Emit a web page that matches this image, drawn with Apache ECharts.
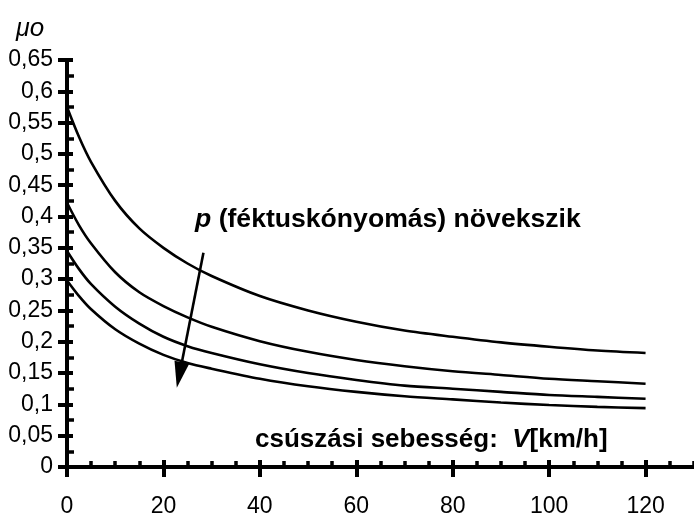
<!DOCTYPE html>
<html><head><meta charset="utf-8">
<script src="https://cdn.jsdelivr.net/npm/echarts@6/dist/echarts.min.js"></script>
<style>html,body{margin:0;padding:0;background:#fff}#c{width:694px;height:519px}</style>
</head><body><div id="c"></div>
<script>
// Data
const speeds = [0, 2.5, 5, 10, 15, 20, 25, 30, 40, 50, 60, 70, 80, 90, 100, 110, 120];
const muCurve1 = [0.575, 0.527, 0.487, 0.425, 0.381, 0.350, 0.325, 0.305, 0.273, 0.250, 0.232, 0.218, 0.208, 0.199, 0.192, 0.186, 0.182];
const muCurve2 = [0.422, 0.386, 0.357, 0.311, 0.279, 0.257, 0.239, 0.224, 0.201, 0.184, 0.171, 0.161, 0.153, 0.147, 0.141, 0.137, 0.133];
const muCurve3 = [0.345, 0.316, 0.292, 0.256, 0.229, 0.208, 0.193, 0.182, 0.164, 0.150, 0.139, 0.130, 0.125, 0.120, 0.115, 0.112, 0.109];
const muCurve4 = [0.298, 0.273, 0.252, 0.220, 0.197, 0.179, 0.166, 0.157, 0.141, 0.129, 0.120, 0.113, 0.108, 0.103, 0.099, 0.096, 0.094];
const xTickLabels = ['0', '20', '40', '60', '80', '100', '120'];
const yTickLabels = ['0', '0,05', '0,1', '0,15', '0,2', '0,25', '0,3', '0,35', '0,4', '0,45', '0,5', '0,55', '0,6', '0,65'];
const arrowStart = [28.3, 0.342];
const arrowEnd = [23.3, 0.147];

const LABEL_FONT = '"Liberation Sans", Arial, sans-serif';
const SANS = '"Liberation Sans", Arial, sans-serif';

function mkSeries(vals) {
  return {
    type: 'line',
    data: speeds.map((v, i) => [v, vals[i]]),
    smooth: 0.3,
    showSymbol: false,
    symbol: 'none',
    lineStyle: { color: '#000', width: 2.6 },
    emphasis: { disabled: true },
    silent: true,
    z: 3
  };
}

const TRI = 'path://M0,0 L10,30 L-10,30 Z';
const series = [mkSeries(muCurve1), mkSeries(muCurve2), mkSeries(muCurve3), mkSeries(muCurve4)];
series[0].markLine = {
  silent: true,
  symbol: ['none', TRI],
  symbolSize: [0, [15, 26]],
  label: { show: false },
  lineStyle: { color: '#000', width: 2.6, type: 'solid' },
  emphasis: { disabled: true },
  data: [[{ coord: arrowStart, symbol: 'none' }, { coord: arrowEnd, symbol: TRI, symbolSize: [15, 26] }]]
};

const xBase = { type: 'value', min: 0, max: 140, interval: 20, splitLine: { show: false }, position: 'bottom' };
const yBase = { type: 'value', min: 0, max: 0.65, interval: 0.05, splitLine: { show: false }, position: 'left' };

const option = {
  animation: false,
  backgroundColor: '#fff',
  grid: { left: 67, top: 60, width: 675, height: 407, containLabel: false, outerBoundsMode: 'none' },
  xAxis: [
    Object.assign({}, xBase, {
      axisLine: { lineStyle: { color: '#000', width: 4 } },
      axisTick: { inside: false, length: 10, lineStyle: { color: '#000', width: 4 } },
      axisLabel: {
        color: '#000', fontSize: 23, fontFamily: LABEL_FONT, margin: 28,
        formatter: (v) => { const i = Math.round(v / 20); return (Math.abs(v - i * 20) < 1e-6 && i < xTickLabels.length) ? xTickLabels[i] : ''; }
      }
    }),
    Object.assign({}, xBase, {
      axisLine: { show: false },
      axisTick: { inside: true, length: 7, lineStyle: { color: '#000', width: 4 } },
      minorTick: { show: true, splitNumber: 4, length: 6, lineStyle: { color: '#000', width: 3.5 } },
      axisLabel: { show: false }
    })
  ],
  yAxis: [
    Object.assign({}, yBase, {
      axisLine: { show: true, lineStyle: { color: '#000', width: 4 } },
      axisTick: { inside: false, length: 9, lineStyle: { color: '#000', width: 4 } },
      axisLabel: {
        color: '#000', fontSize: 23, fontFamily: LABEL_FONT, margin: 14,
        formatter: (v) => { const i = Math.round(v / 0.05); return yTickLabels[i] || ''; }
      }
    }),
    Object.assign({}, yBase, {
      axisLine: { show: false },
      axisTick: { inside: true, length: 6, lineStyle: { color: '#000', width: 4 } },
      minorTick: { show: true, splitNumber: 2, length: 7, lineStyle: { color: '#000', width: 3.5 } },
      axisLabel: { show: false }
    })
  ],
  series: series,
  graphic: [
    {
      type: 'text', left: 16, top: 16,
      style: {
        text: '{m|μ}{s|o}',
        rich: {
          m: { fontSize: 25, fontStyle: 'italic', fontFamily: SANS, fill: '#000' },
          s: { fontSize: 26, fontStyle: 'italic', fontFamily: SANS, fill: '#000' }
        }
      }
    },
    {
      type: 'text', left: 195, top: 206,
      style: {
        text: '{i|p} (féktuskónyomás) növekszik',
        fontSize: 26.6, fontWeight: 'bold', fontFamily: SANS, fill: '#000',
        rich: { i: { fontSize: 26.6, fontWeight: 'bold', fontStyle: 'italic', fontFamily: SANS, fill: '#000' } }
      }
    },
    {
      type: 'text', left: 255, top: 427,
      style: {
        text: 'csúszási sebesség:  {i|V}[km/h]',
        fontSize: 26, fontWeight: 'bold', fontFamily: SANS, fill: '#000',
        rich: { i: { fontSize: 26, fontWeight: 'bold', fontStyle: 'italic', fontFamily: SANS, fill: '#000' } }
      }
    }
  ]
};

const chart = echarts.init(document.getElementById('c'), null, { renderer: 'canvas' });
chart.setOption(option);
</script>
</body></html>
